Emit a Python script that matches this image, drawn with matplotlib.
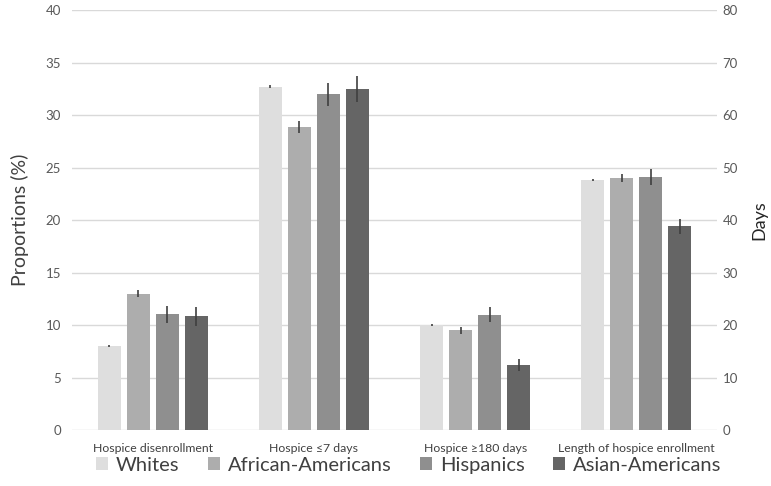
import matplotlib.pyplot as plt
import numpy as np

plt.rcParams['font.family'] = ['Lato', 'DejaVu Sans']

# Data
categories = ['Hospice disenrollment', 'Hospice \u22647 days',
              'Hospice \u2265180 days', 'Length of hospice enrollment']
groups = ['Whites', 'African-Americans', 'Hispanics', 'Asian-Americans']

# proportions (%) for first three outcomes, one list per group
prop_whites = [8.05, 32.7, 10.0]
prop_afam = [13.0, 28.9, 9.5]
prop_hisp = [11.05, 32.0, 11.0]
prop_asian = [10.85, 32.5, 6.2]
prop_err_whites = [0.1, 0.15, 0.1]
prop_err_afam = [0.35, 0.55, 0.3]
prop_err_hisp = [0.8, 1.1, 0.7]
prop_err_asian = [0.9, 1.25, 0.6]

# length of enrollment (days), right axis
days_vals = [47.6, 48.0, 48.2, 38.8]
days_err = [0.2, 0.8, 1.55, 1.45]

colors = ['#dedede', '#adadad', '#8f8f8f', '#656565']
err_color = '#3f3f3f'
text_col = '#595959'
grid_col = '#d9d9d9'

fig = plt.figure(figsize=(7.71, 4.86), dpi=100)
ax = fig.add_axes([0.0934, 0.115, 0.8366, 0.864])
ax2 = ax.twinx()

width = 0.143
step = 0.18
offsets = (np.arange(4) - 1.5) * step
x = np.arange(3)

props = [prop_whites, prop_afam, prop_hisp, prop_asian]
perrs = [prop_err_whites, prop_err_afam, prop_err_hisp, prop_err_asian]
for i in range(4):
    ax.bar(x + offsets[i], props[i], width, color=colors[i], label=groups[i],
           yerr=perrs[i], ecolor=err_color, error_kw=dict(elinewidth=1.2, capsize=0),
           zorder=3)
    ax2.bar(3 + offsets[i], days_vals[i], width, color=colors[i],
            yerr=days_err[i], ecolor=err_color, error_kw=dict(elinewidth=1.2, capsize=0),
            zorder=3)

ax.set_xlim(-0.5, 3.5)
ax.set_ylim(0, 40)
ax2.set_ylim(0, 80)
ax.set_yticks(np.arange(0, 41, 5))
ax2.set_yticks(np.arange(0, 81, 10))
ax.set_xticks(np.arange(4))
ax.set_xticklabels(categories)
ax.yaxis.grid(True, color=grid_col, linewidth=1, zorder=0)
ax.set_axisbelow(True)

for a in (ax, ax2):
    for s in a.spines.values():
        s.set_visible(False)
    a.tick_params(length=0, labelsize=9.5, labelcolor=text_col)
ax.tick_params(axis='x', pad=9, labelsize=8.8, labelcolor='#404040')
ax.tick_params(axis='y', pad=8)
ax2.tick_params(axis='y', pad=4)

ax.set_ylabel('Proportions (%)', fontsize=14, color='#404040', labelpad=12)
ax2.set_ylabel('Days', fontsize=13, color='#262626', labelpad=10)

handles, labels = ax.get_legend_handles_labels()
fig.legend(handles, labels, loc='center', bbox_to_anchor=(0.53, 0.043), ncol=4,
           frameon=False, fontsize=14.5, handlelength=0.6, handleheight=0.6,
           handletextpad=0.4, columnspacing=1.4, labelcolor='#404040')

fig.savefig('out.png', dpi=100)
